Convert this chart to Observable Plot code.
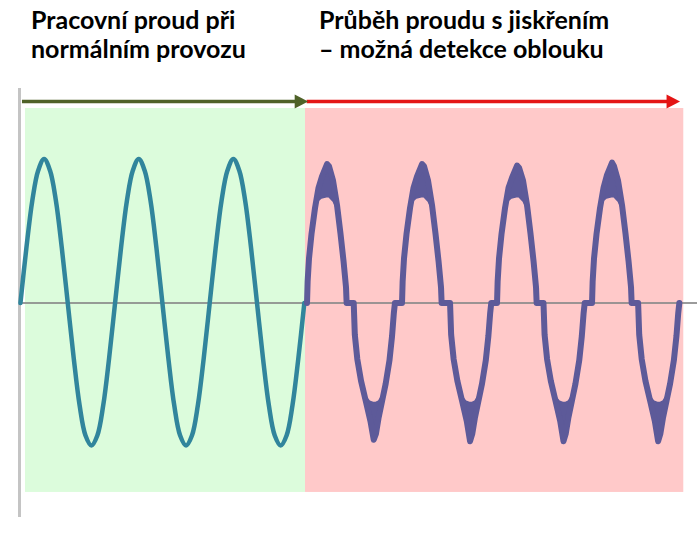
<!DOCTYPE html>
<html><head><meta charset="utf-8">
<script src="https://cdn.jsdelivr.net/npm/d3@7"></script>
<script src="https://cdn.jsdelivr.net/npm/@observablehq/plot@0.6"></script>
<style>
body{margin:0;background:#fff;}
#wrap{position:relative;width:697px;height:534px;overflow:hidden;}
#head{position:relative;height:80px;}
.t{position:absolute;font-family:Lato,"Open Sans",sans-serif;font-weight:700;font-size:25px;line-height:29px;color:#000;white-space:nowrap;}
#chart svg{display:block;}
</style></head><body>
<div id="wrap"><div id="head"></div><div id="chart"></div></div>
<script>
// ---- titles ----
const titleNormal = ["Pracovní proud při", "normálním provozu"];
const titleArc = ["Průběh proudu s jiskřením", "– možná detekce oblouku"];

// ---- phases (time in ms) ----
const phaseNames = ["normal", "arc"];
const phaseStart = [1.07, 60.25];
const phaseEnd = [60.25, 140.2];
const arrowStart = [0.43, 60.6];
const arrowEnd = [60.6, 139.2];
const phaseFill = ["#dcfcdc", "#ffc9c9"];
const arrowColor = ["#4f6228", "#e41414"];

// ---- normal operating current (3 periods, 50 Hz) ----
const greenT = [0,1.25,2.5,3.75,5,6.25,7.5,8.75,10,11.25,12.5,13.75,15,16.25,17.5,18.75,
  20,21.25,22.5,23.75,25,26.25,27.5,28.75,30,31.25,32.5,33.75,35,36.25,37.5,38.75,
  40,41.25,42.5,43.75,45,46.25,47.5,48.75,50,51.25,52.5,53.75,55,56.25,57.5,58.75,60];
const greenV = [0,0.38,0.71,0.92,1.0,0.92,0.71,0.38,0,-0.38,-0.71,-0.92,-0.99,-0.92,-0.71,-0.38,
  0,0.38,0.71,0.92,1.0,0.92,0.71,0.38,0,-0.38,-0.71,-0.92,-0.99,-0.92,-0.71,-0.38,
  0,0.38,0.71,0.92,1.0,0.92,0.71,0.38,0,-0.38,-0.71,-0.92,-0.99,-0.92,-0.71,-0.38,0];

// ---- arcing current: half-wave lobes ----
const redStarts = [60.57, 70.44, 80.65, 90.8, 100.73, 110.55, 120.81, 130.55];
const posLobeT = [0,0.13,0.42,0.95,1.69,2.43,3.17,4.23,4.65,5.5,6.34,7.08,7.72,8.24,8.37];
const negLobeT = [0,0.23,0.76,1.54,2.54,3.53,4.23,4.69,5.24,6.0,6.76,7.55,8.1,8.48,8.71];
const redOuter = [
  [0,0.15,0.31,0.48,0.66,0.80,0.88,0.965,0.95,0.85,0.68,0.48,0.29,0.11,0],
  [0,-0.22,-0.39,-0.54,-0.68,-0.82,-0.95,-0.91,-0.80,-0.68,-0.56,-0.40,-0.23,-0.07,0],
  [0,0.15,0.31,0.48,0.66,0.80,0.88,0.965,0.95,0.85,0.68,0.48,0.29,0.11,0],
  [0,-0.22,-0.39,-0.54,-0.68,-0.82,-0.96,-0.91,-0.80,-0.68,-0.56,-0.40,-0.23,-0.07,0],
  [0,0.15,0.31,0.48,0.66,0.80,0.87,0.955,0.94,0.85,0.68,0.48,0.29,0.11,0],
  [0,-0.22,-0.39,-0.54,-0.68,-0.82,-0.96,-0.91,-0.80,-0.68,-0.56,-0.40,-0.23,-0.07,0],
  [0,0.15,0.31,0.48,0.66,0.80,0.89,0.975,0.95,0.85,0.68,0.48,0.29,0.11,0],
  [0,-0.22,-0.39,-0.54,-0.68,-0.82,-0.96,-0.91,-0.80,-0.68,-0.56,-0.40,-0.23,-0.07,0]
];
const redInner = [
  [0,0.15,0.31,0.48,0.62,0.70,0.72,0.73,0.73,0.70,0.64,0.48,0.29,0.11,0],
  [0,-0.22,-0.39,-0.54,-0.64,-0.68,-0.69,-0.69,-0.68,-0.64,-0.56,-0.40,-0.23,-0.07,0],
  [0,0.15,0.31,0.48,0.62,0.70,0.72,0.73,0.73,0.70,0.64,0.48,0.29,0.11,0],
  [0,-0.22,-0.39,-0.54,-0.64,-0.68,-0.69,-0.69,-0.68,-0.64,-0.56,-0.40,-0.23,-0.07,0],
  [0,0.15,0.31,0.48,0.62,0.70,0.72,0.73,0.73,0.70,0.64,0.48,0.29,0.11,0],
  [0,-0.22,-0.39,-0.54,-0.64,-0.68,-0.69,-0.69,-0.68,-0.64,-0.56,-0.40,-0.23,-0.07,0],
  [0,0.15,0.31,0.48,0.62,0.70,0.72,0.73,0.73,0.70,0.64,0.48,0.29,0.11,0],
  [0,-0.22,-0.39,-0.54,-0.64,-0.68,-0.69,-0.69,-0.68,-0.64,-0.56,-0.40,-0.23,-0.07,0]
];

// ---- build tables ----
const phases = phaseNames.map((name, i) => ({
  name, x1: phaseStart[i], x2: phaseEnd[i], a1: arrowStart[i], a2: arrowEnd[i],
  fill: phaseFill[i], arrow: arrowColor[i]
}));
const green = greenT.map((t, i) => ({t, v: greenV[i]}));
const red = [];
redStarts.forEach((s, k) => {
  const rel = k % 2 === 0 ? posLobeT : negLobeT;
  rel.forEach((r, j) => red.push({lobe: k, t: s + r, v: redOuter[k][j], inner: redInner[k][j]}));
});

// ---- titles ----
const head = document.getElementById("head");
[[titleNormal, 31], [titleArc, 319]].forEach(([lines, left]) => {
  const d = document.createElement("div");
  d.className = "t";
  d.style.left = left + "px";
  d.style.top = "5px";
  d.innerHTML = lines.join("<br>");
  head.appendChild(d);
});

const arrowHead = {
  draw(ctx) { ctx.moveTo(1, 0); ctx.lineTo(-12.5, -7); ctx.lineTo(-12.5, 7); ctx.closePath(); }
};

const teal = "#31859c";
const purple = "#5d5a99";

const chart = Plot.plot({
  width: 697, height: 454,
  marginLeft: 19, marginRight: 0, marginTop: 8, marginBottom: 17,
  x: {domain: [-0.2, 143.1], axis: null},
  y: {domain: [-1.49, 1.49], axis: null},
  style: {background: "transparent", overflow: "visible"},
  marks: [
    Plot.rect(phases.filter(d => d.name === "normal"), {x1: "x1", x2: "x2", y1: -1.316, y2: 1.351, fill: phaseFill[0]}),
    Plot.rect(phases.filter(d => d.name === "arc"), {x1: "x1", x2: "x2", y1: -1.316, y2: 1.351, fill: phaseFill[1]}),
    Plot.ruleX([-0.2], {stroke: "#c4c4c4", strokeWidth: 3}),
    Plot.ruleY([0], {stroke: "#8a8a8a", strokeWidth: 2, strokeOpacity: 0.85}),
    Plot.line(green, {x: "t", y: "v", stroke: teal, strokeWidth: 4.5, curve: "catmull-rom"}),
    Plot.areaY(red, {x: "t", y1: "inner", y2: "v", z: "lobe", fill: purple, curve: "linear"}),
    Plot.line(red, {x: "t", y: "v", stroke: purple, strokeWidth: 6, strokeLinejoin: "round", curve: "linear"}),
    Plot.ruleY(phases.filter(d => d.name === "normal"), {y: 1.40, x1: "a1", x2: "a2", stroke: arrowColor[0], strokeWidth: 3.5, insetRight: 8}),
    Plot.ruleY(phases.filter(d => d.name === "arc"), {y: 1.40, x1: "a1", x2: "a2", stroke: arrowColor[1], strokeWidth: 3.5, insetRight: 8}),
    Plot.dot(phases.filter(d => d.name === "normal"), {x: "a2", y: 1.40, symbol: arrowHead, fill: arrowColor[0], stroke: "none"}),
    Plot.dot(phases.filter(d => d.name === "arc"), {x: "a2", y: 1.40, symbol: arrowHead, fill: arrowColor[1], stroke: "none"})
  ]
});
document.getElementById("chart").appendChild(chart);
</script>
</body></html>
